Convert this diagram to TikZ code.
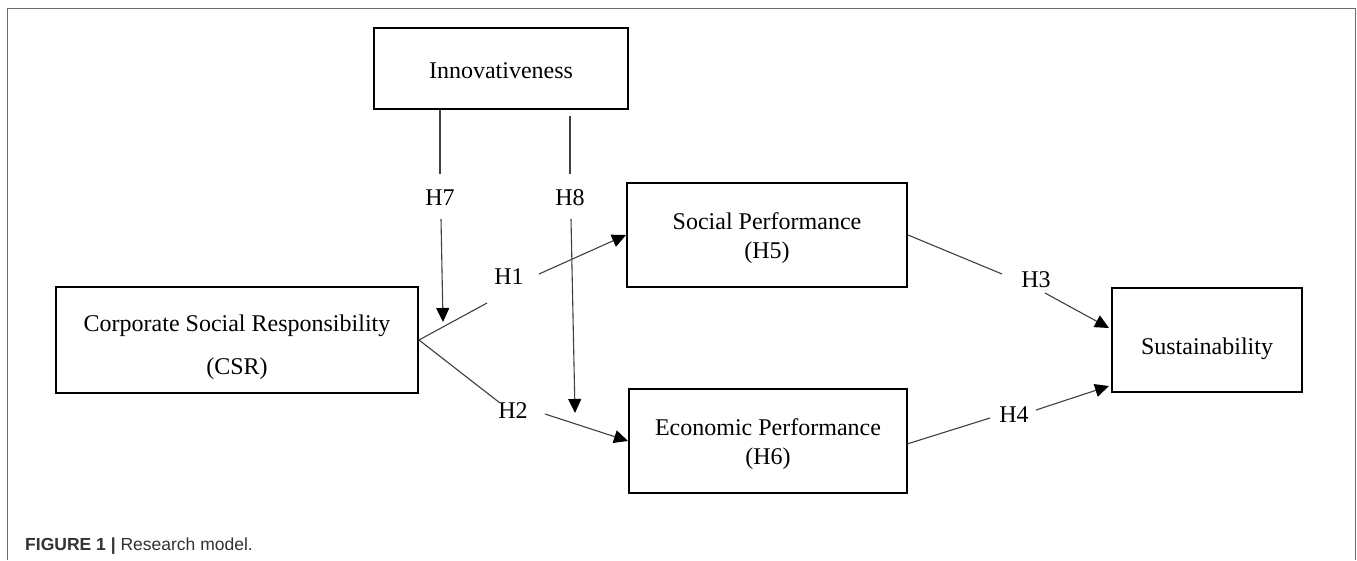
\documentclass[tikz,border=0pt]{standalone}
\usepackage{fontspec}
\setmainfont{Liberation Serif}
\newfontfamily\capfont{Liberation Sans}
\usetikzlibrary{arrows.meta,calc}
\definecolor{framegray}{HTML}{6A6A6A}
\definecolor{linegray}{HTML}{404040}
\definecolor{captxt}{HTML}{333333}
\begin{document}
\begin{tikzpicture}[x=1pt,y=-1pt,
  box/.style={draw=black, line width=2pt, align=center, inner sep=0pt,
    font=\fontsize{24}{29}\selectfont, text=black},
  conn/.style={draw=linegray, line width=1.1pt},
  arr/.style={conn, -{Triangle[length=14pt,width=13pt,color=black]}},
  lbl/.style={font=\fontsize{24}{28}\selectfont, inner sep=0pt, text=black}
]
\useasboundingbox (0,0) rectangle (1357,560);
\fill[white] (0,0) rectangle (1357,560);
% frame
\draw[framegray, line width=1.5pt] (7.5,560) -- (7.5,8.5) -- (1355.5,8.5) -- (1355.5,560);

% boxes
\node[box, minimum width=254pt, minimum height=81pt, text height=24pt, text depth=5pt] (innov) at (501,68.5) {Innovativeness};
\node[box, minimum width=280pt, minimum height=104pt, text height=51pt, text depth=5pt] (sp) at (767,235) {Social Performance\\(H5)};
\node[box, minimum width=278pt, minimum height=104pt, text height=52pt, text depth=5pt] (ep) at (768,441) {Economic Performance\\(H6)};
\node[box, minimum width=362pt, minimum height=106pt, text height=74pt, text depth=5pt] (csr) at (237,340) {Corporate Social Responsibility\\[14pt](CSR)};
\node[box, minimum width=190pt, minimum height=104pt, text height=33pt, text depth=5pt] (sus) at (1207,340) {Sustainability};

% label nodes
\node[lbl] (h7) at (440,198) {H7};
\node[lbl] (h8) at (570,198) {H8};
\node[lbl] (h1) at (509,277) {H1};
\node[lbl] (h2) at (513,411) {H2};
\node[lbl] (h3) at (1036,280) {H3};
\node[lbl] (h4) at (1014,415) {H4};

% helper coordinates
\coordinate (h7x) at (440,0);
\coordinate (h7a) at (440,174);
\coordinate (h7b) at (441,219);
\coordinate (h7tip) at (443,322);
\coordinate (h8s) at (570,116);
\coordinate (h8a) at (570,174);
\coordinate (h8b) at (571,219);
\coordinate (h8tip) at (575,413);
\coordinate (h1a) at (487,303);
\coordinate (h1b) at (539,274);
\coordinate (h2a) at (500,403);
\coordinate (h2b) at (545,414);
\coordinate (h3a) at (1002,274);
\coordinate (h3b) at (1045,293);
\coordinate (h3tip) at (1109,328);
\coordinate (h4s) at (907,444);
\coordinate (h4a) at (990,418);
\coordinate (h4b) at (1036,410);
\coordinate (h4tip) at (1109,386);

% connectors
\draw[conn] (innov.south -| h7x) -- (h7a);
\draw[arr] (h7b) -- (h7tip);
\draw[conn] (h8s) -- (h8a);
\draw[arr] (h8b) -- (h8tip);
\draw[conn] (csr.east) -- (h1a);
\draw[arr] (h1b) -- (sp.west);
\draw[conn] (csr.east) -- (h2a);
\draw[arr] (h2b) -- (ep.west);
\draw[conn] (sp.east) -- (h3a);
\draw[arr] (h3b) -- (h3tip);
\draw[conn] (h4s) -- (h4a);
\draw[arr] (h4b) -- (h4tip);

% caption
\node[anchor=base west, inner sep=0pt, font=\capfont\fontsize{17.5}{20}\selectfont, text=captxt] (cap) at (25,550)
  {\textbf{FIGURE 1} \textbf{|} Research model.};
\end{tikzpicture}
\end{document}
